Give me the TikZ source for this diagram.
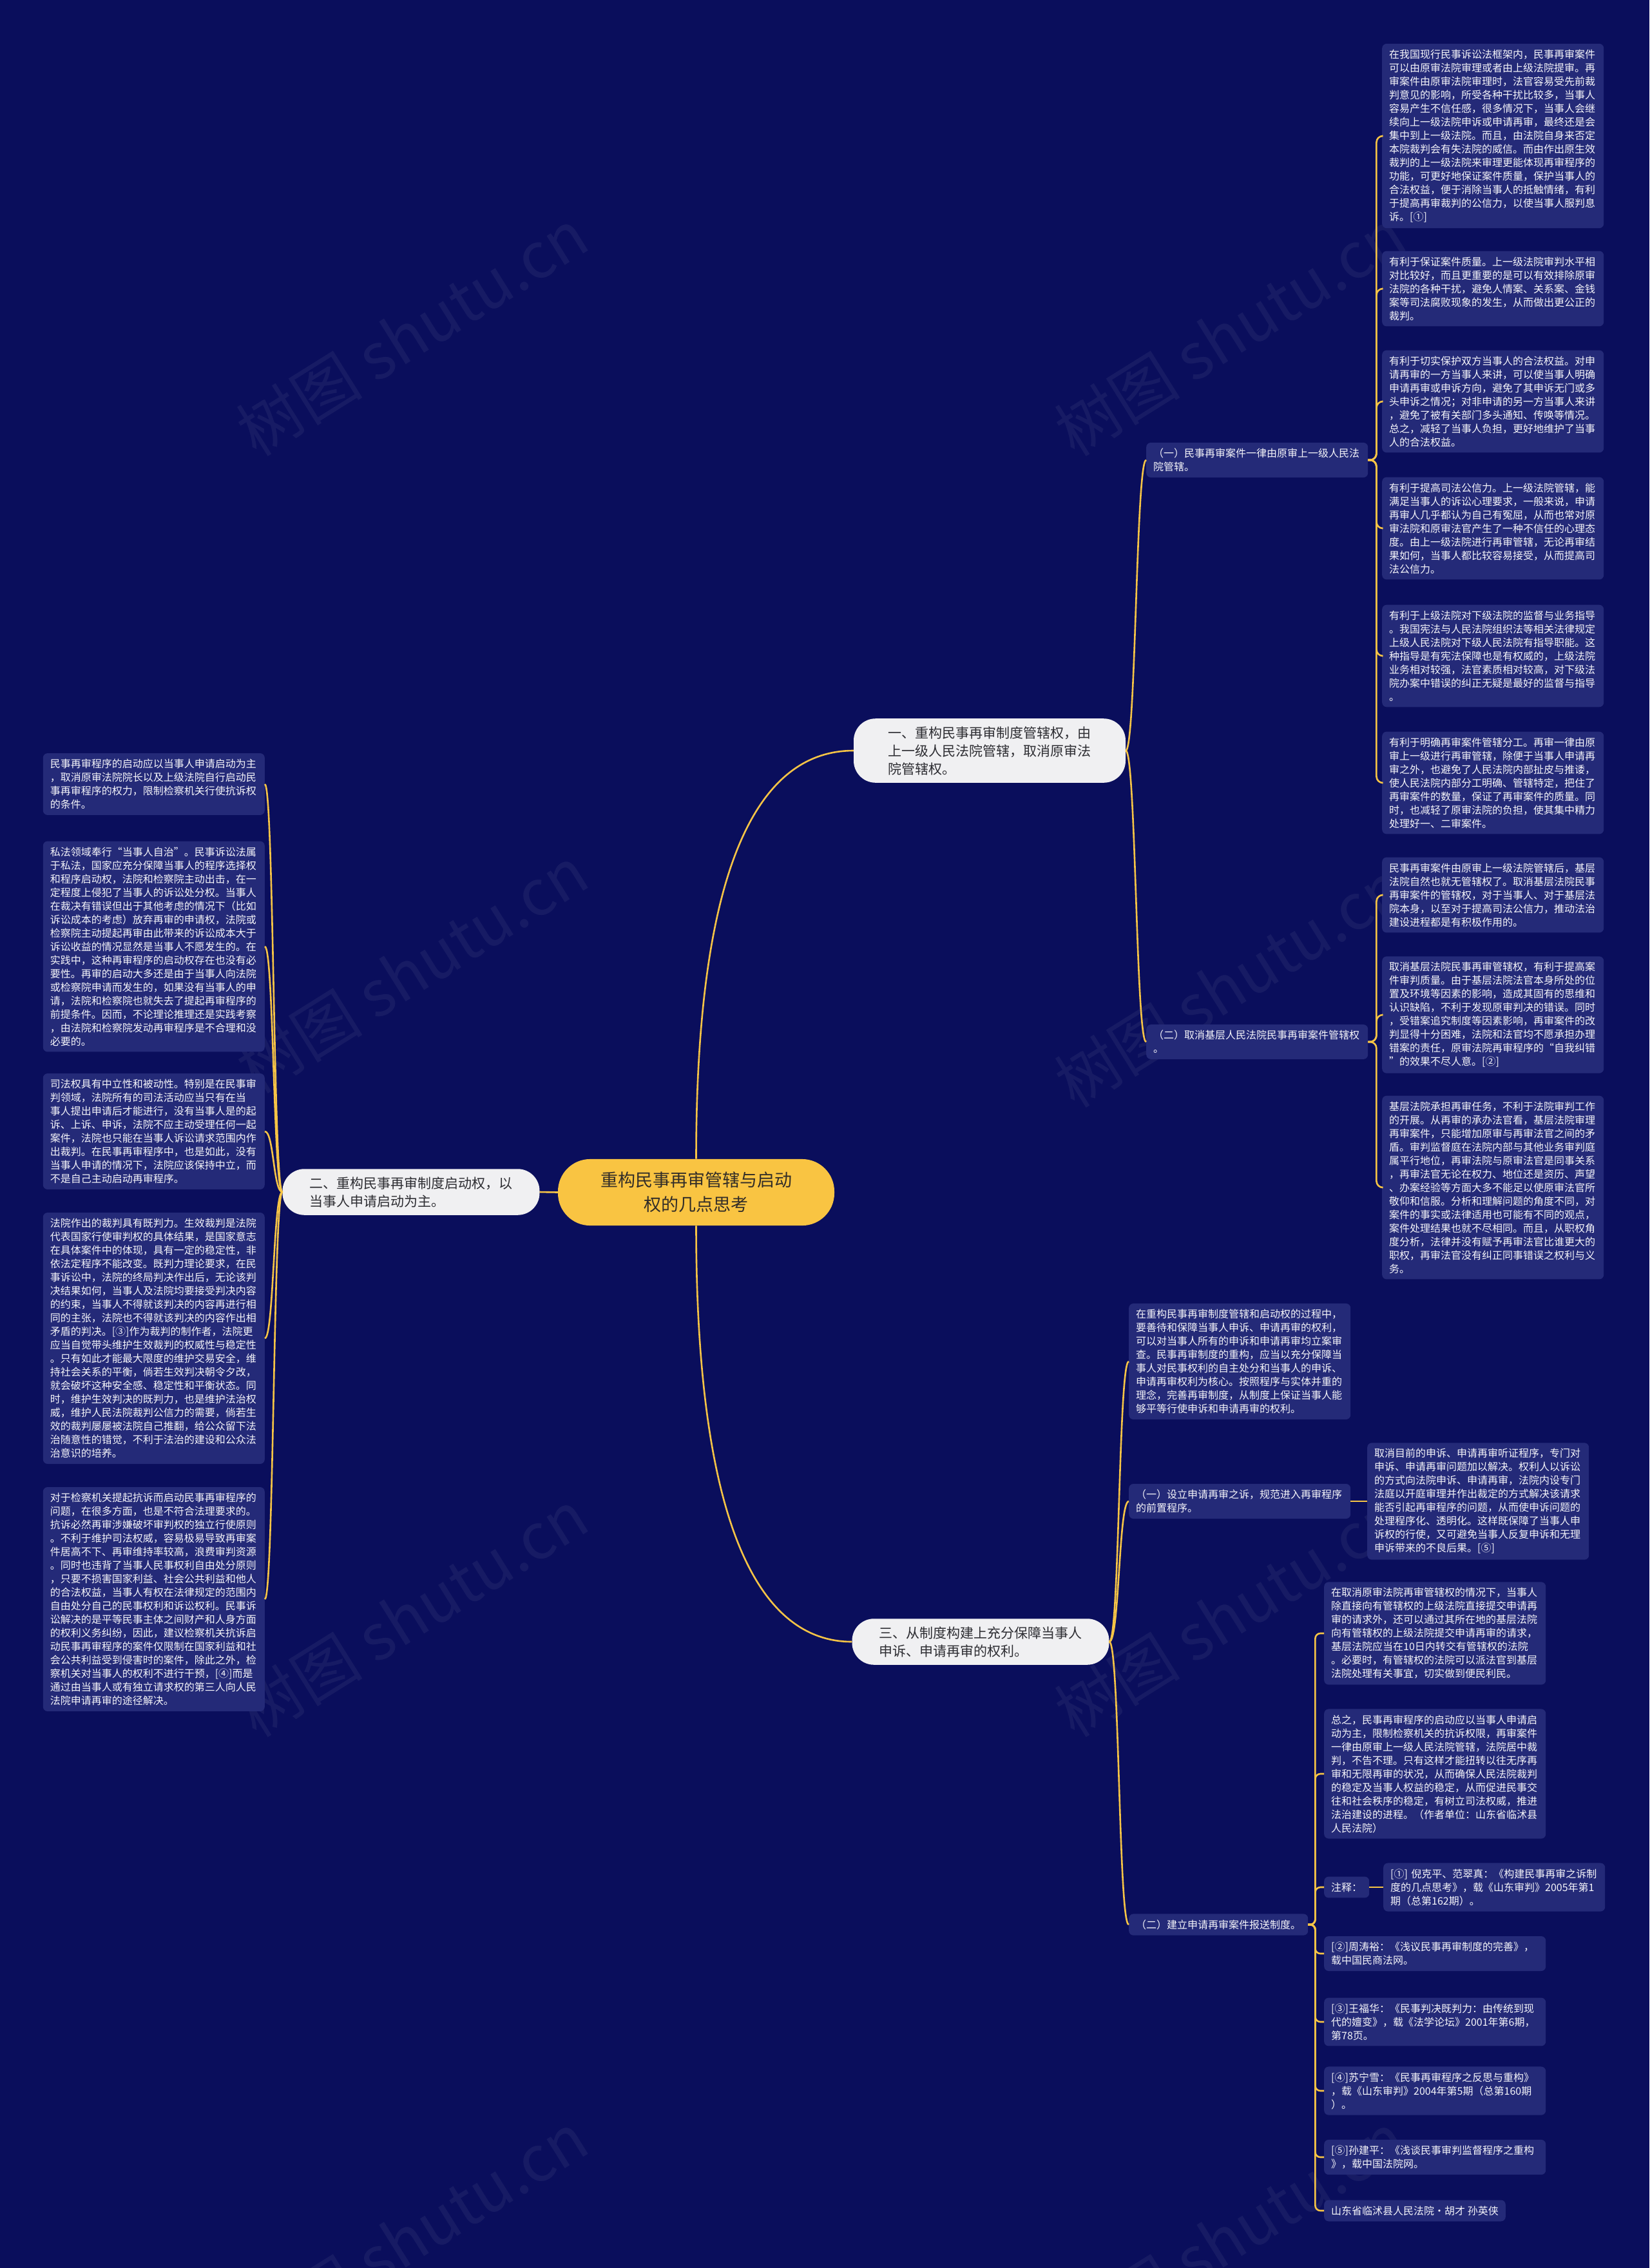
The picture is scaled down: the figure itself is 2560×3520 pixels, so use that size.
\documentclass[tikz,border=0pt]{standalone}
\usepackage{fontspec}
\setmainfont{Noto Sans CJK SC}
\definecolor{bgc}{RGB}{10,14,92}
\definecolor{boxc}{RGB}{36,42,120}
\definecolor{linec}{RGB}{246,196,70}
\definecolor{txtc}{RGB}{245,245,250}
\definecolor{topc}{RGB}{240,240,242}
\definecolor{topt}{RGB}{45,45,50}
\definecolor{rootc}{RGB}{249,196,66}
\definecolor{roott}{RGB}{50,45,40}
\tikzset{
 conn/.style={draw=linec, line width=2.6pt},
 tbox/.style={fill=boxc, rounded corners=7pt, text=txtc, font=\fontsize{16}{21}\selectfont, align=left, inner xsep=11pt, inner ysep=9pt},
 leafbox/.style={tbox, text width=322pt},
 topic/.style={fill=topc, text=topt, font=\fontsize{21}{28}\selectfont, align=left, rounded corners=34pt, inner xsep=42pt, inner ysep=12pt},
 rootbox/.style={fill=rootc, text=roott, font=\fontsize{27}{38}\selectfont, align=center, rounded corners=50pt, inner xsep=66pt, inner ysep=20pt},
 wm/.style={text=white, opacity=0.055, font=\fontsize{98}{100}\selectfont, rotate=32},
}
\begin{document}
\begin{tikzpicture}[x=1pt,y=-1pt]
\useasboundingbox (0,0) rectangle (2560,3520);
\fill[bgc] (0,0) rectangle (2560,3520);

% watermarks
\node[wm] (w1) at (640,516) {树图 shutu.cn};
\node[wm] (w2) at (1909,516) {树图 shutu.cn};
\node[wm] (w3) at (640,1505) {树图 shutu.cn};
\node[wm] (w4) at (1909,1527) {树图 shutu.cn};
\node[wm] (w5) at (640,2504) {树图 shutu.cn};
\node[wm] (w6) at (1909,2504) {树图 shutu.cn};
\node[wm] (w7) at (640,3470) {树图 shutu.cn};
\node[wm] (w8) at (1909,3470) {树图 shutu.cn};

% root and main topics
\node[rootbox] (root) at (1080.5,1850.5) {重构民事再审管辖与启动\\权的几点思考};
\node[topic, minimum width=422pt] (n1) at (1536,1165) {一、重构民事再审制度管辖权，由\\上一级人民法院管辖，取消原审法\\院管辖权。};
\node[topic] (n2) at (638,1850) {二、重构民事再审制度启动权，以\\当事人申请启动为主。};
\node[topic] (n3) at (1522,2548) {三、从制度构建上充分保障当事人\\申诉、申请再审的权利。};

% branch 1 labels
\node[leafbox, anchor=west] (lab1) at (1779,714) {（一）民事再审案件一律由原审上一级人民法\\院管辖。};
\node[leafbox, anchor=west] (lab2) at (1779,1617) {（二）取消基层人民法院民事再审案件管辖权\\。};

% group 1 leaves
\node[leafbox, anchor=west] (L1a) at (2145,211) {在我国现行民事诉讼法框架内，民事再审案件\\可以由原审法院审理或者由上级法院提审。再\\审案件由原审法院审理时，法官容易受先前裁\\判意见的影响，所受各种干扰比较多，当事人\\容易产生不信任感，很多情况下，当事人会继\\续向上一级法院申诉或申请再审，最终还是会\\集中到上一级法院。而且，由法院自身来否定\\本院裁判会有失法院的威信。而由作出原生效\\裁判的上一级法院来审理更能体现再审程序的\\功能，可更好地保证案件质量，保护当事人的\\合法权益，便于消除当事人的抵触情绪，有利\\于提高再审裁判的公信力，以使当事人服判息\\诉。[①]};
\node[leafbox, anchor=west] (L1b) at (2145,448) {有利于保证案件质量。上一级法院审判水平相\\对比较好，而且更重要的是可以有效排除原审\\法院的各种干扰，避免人情案、关系案、金钱\\案等司法腐败现象的发生，从而做出更公正的\\裁判。};
\node[leafbox, anchor=west] (L1c) at (2145,623) {有利于切实保护双方当事人的合法权益。对申\\请再审的一方当事人来讲，可以使当事人明确\\申请再审或申诉方向，避免了其申诉无门或多\\头申诉之情况；对非申请的另一方当事人来讲\\，避免了被有关部门多头通知、传唤等情况。\\总之，减轻了当事人负担，更好地维护了当事\\人的合法权益。};
\node[leafbox, anchor=west] (L1d) at (2145,820) {有利于提高司法公信力。上一级法院管辖，能\\满足当事人的诉讼心理要求，一般来说，申请\\再审人几乎都认为自己有冤屈，从而也常对原\\审法院和原审法官产生了一种不信任的心理态\\度。由上一级法院进行再审管辖，无论再审结\\果如何，当事人都比较容易接受，从而提高司\\法公信力。};
\node[leafbox, anchor=west] (L1e) at (2145,1018) {有利于上级法院对下级法院的监督与业务指导\\。我国宪法与人民法院组织法等相关法律规定\\上级人民法院对下级人民法院有指导职能。这\\种指导是有宪法保障也是有权威的，上级法院\\业务相对较强，法官素质相对较高，对下级法\\院办案中错误的纠正无疑是最好的监督与指导\\。};
\node[leafbox, anchor=west] (L1f) at (2145,1215) {有利于明确再审案件管辖分工。再审一律由原\\审上一级进行再审管辖，除便于当事人申请再\\审之外，也避免了人民法院内部扯皮与推诿，\\使人民法院内部分工明确、管辖特定，把住了\\再审案件的数量，保证了再审案件的质量。同\\时，也减轻了原审法院的负担，使其集中精力\\处理好一、二审案件。};

% group 2 leaves
\node[leafbox, anchor=west] (L2a) at (2145,1389) {民事再审案件由原审上一级法院管辖后，基层\\法院自然也就无管辖权了。取消基层法院民事\\再审案件的管辖权，对于当事人、对于基层法\\院本身，以至对于提高司法公信力，推动法治\\建设进程都是有积极作用的。};
\node[leafbox, anchor=west] (L2b) at (2145,1575) {取消基层法院民事再审管辖权，有利于提高案\\件审判质量。由于基层法院法官本身所处的位\\置及环境等因素的影响，造成其固有的思维和\\认识缺陷，不利于发现原审判决的错误。同时\\，受错案追究制度等因素影响，再审案件的改\\判显得十分困难，法院和法官均不愿承担办理\\错案的责任，原审法院再审程序的“自我纠错\\”的效果不尽人意。[②]};
\node[leafbox, anchor=west] (L2c) at (2145,1843) {基层法院承担再审任务，不利于法院审判工作\\的开展。从再审的承办法官看，基层法院审理\\再审案件，只能增加原审与再审法官之间的矛\\盾。审判监督庭在法院内部与其他业务审判庭\\属平行地位，再审法院与原审法官是同事关系\\，再审法官无论在权力、地位还是资历、声望\\、办案经验等方面大多不能足以使原审法官所\\敬仰和信服。分析和理解问题的角度不同，对\\案件的事实或法律适用也可能有不同的观点，\\案件处理结果也就不尽相同。而且，从职权角\\度分析，法律并没有赋予再审法官比谁更大的\\职权，再审法官没有纠正同事错误之权利与义\\务。};

% left leaves
\node[leafbox, anchor=east] (LL1) at (411,1217) {民事再审程序的启动应以当事人申请启动为主\\，取消原审法院院长以及上级法院自行启动民\\事再审程序的权力，限制检察机关行使抗诉权\\的条件。};
\node[leafbox, anchor=east] (LL2) at (411,1469) {私法领域奉行“当事人自治”。民事诉讼法属\\于私法，国家应充分保障当事人的程序选择权\\和程序启动权，法院和检察院主动出击，在一\\定程度上侵犯了当事人的诉讼处分权。当事人\\在裁决有错误但出于其他考虑的情况下（比如\\诉讼成本的考虑）放弃再审的申请权，法院或\\检察院主动提起再审由此带来的诉讼成本大于\\诉讼收益的情况显然是当事人不愿发生的。在\\实践中，这种再审程序的启动权存在也没有必\\要性。再审的启动大多还是由于当事人向法院\\或检察院申请而发生的，如果没有当事人的申\\请，法院和检察院也就失去了提起再审程序的\\前提条件。因而，不论理论推理还是实践考察\\，由法院和检察院发动再审程序是不合理和没\\必要的。};
\node[leafbox, anchor=east] (LL3) at (411,1756) {司法权具有中立性和被动性。特别是在民事审\\判领域，法院所有的司法活动应当只有在当\\事人提出申请后才能进行，没有当事人是的起\\诉、上诉、申诉，法院不应主动受理任何一起\\案件，法院也只能在当事人诉讼请求范围内作\\出裁判。在民事再审程序中，也是如此，没有\\当事人申请的情况下，法院应该保持中立，而\\不是自己主动启动再审程序。};
\node[leafbox, anchor=east] (LL4) at (411,2077) {法院作出的裁判具有既判力。生效裁判是法院\\代表国家行使审判权的具体结果，是国家意志\\在具体案件中的体现，具有一定的稳定性，非\\依法定程序不能改变。既判力理论要求，在民\\事诉讼中，法院的终局判决作出后，无论该判\\决结果如何，当事人及法院均要接受判决内容\\的约束，当事人不得就该判决的内容再进行相\\同的主张，法院也不得就该判决的内容作出相\\矛盾的判决。[③]作为裁判的制作者，法院更\\应当自觉带头维护生效裁判的权威性与稳定性\\。只有如此才能最大限度的维护交易安全，维\\持社会关系的平衡，倘若生效判决朝令夕改，\\就会破坏这种安全感、稳定性和平衡状态。同\\时，维护生效判决的既判力，也是维护法治权\\威，维护人民法院裁判公信力的需要，倘若生\\效的裁判屡屡被法院自己推翻，给公众留下法\\治随意性的错觉，不利于法治的建设和公众法\\治意识的培养。};
\node[leafbox, anchor=east] (LL5) at (411,2482) {对于检察机关提起抗诉而启动民事再审程序的\\问题，在很多方面，也是不符合法理要求的。\\抗诉必然再审涉嫌破坏审判权的独立行使原则\\。不利于维护司法权威，容易极易导致再审案\\件居高不下、再审维持率较高，浪费审判资源\\。同时也违背了当事人民事权利自由处分原则\\，只要不损害国家利益、社会公共利益和他人\\的合法权益，当事人有权在法律规定的范围内\\自由处分自己的民事权利和诉讼权利。民事诉\\讼解决的是平等民事主体之间财产和人身方面\\的权利义务纠纷，因此，建议检察机关抗诉启\\动民事再审程序的案件仅限制在国家利益和社\\会公共利益受到侵害时的案件，除此之外，检\\察机关对当事人的权利不进行干预，[④]而是\\通过由当事人或有独立请求权的第三人向人民\\法院申请再审的途径解决。};

% branch 3
\node[leafbox, anchor=west] (B1) at (1752,2113) {在重构民事再审制度管辖和启动权的过程中，\\要善待和保障当事人申诉、申请再审的权利，\\可以对当事人所有的申诉和申请再审均立案审\\查。民事再审制度的重构，应当以充分保障当\\事人对民事权利的自主处分和当事人的申诉、\\申请再审权利为核心。按照程序与实体并重的\\理念，完善再审制度，从制度上保证当事人能\\够平等行使申诉和申请再审的权利。};
\node[leafbox, anchor=west] (B2) at (1752,2330) {（一）设立申请再审之诉，规范进入再审程序\\的前置程序。};
\node[tbox, anchor=west] (B3) at (1752,2987) {（二）建立申请再审案件报送制度。};
\node[leafbox, anchor=west] (B2x) at (2122,2330) {取消目前的申诉、申请再审听证程序，专门对\\申诉、申请再审问题加以解决。权利人以诉讼\\的方式向法院申诉、申请再审，法院内设专门\\法庭以开庭审理并作出裁定的方式解决该请求\\能否引起再审程序的问题，从而使申诉问题的\\处理程序化、透明化。这样既保障了当事人申\\诉权的行使，又可避免当事人反复申诉和无理\\申诉带来的不良后果。[⑤]};

\node[leafbox, anchor=west] (C1) at (2055,2535) {在取消原审法院再审管辖权的情况下，当事人\\除直接向有管辖权的上级法院直接提交申请再\\审的请求外，还可以通过其所在地的基层法院\\向有管辖权的上级法院提交申请再审的请求，\\基层法院应当在10日内转交有管辖权的法院\\。必要时，有管辖权的法院可以派法官到基层\\法院处理有关事宜，切实做到便民利民。};
\node[leafbox, anchor=west] (C2) at (2055,2753) {总之，民事再审程序的启动应以当事人申请启\\动为主，限制检察机关的抗诉权限，再审案件\\一律由原审上一级人民法院管辖，法院居中裁\\判，不告不理。只有这样才能扭转以往无序再\\审和无限再审的状况，从而确保人民法院裁判\\的稳定及当事人权益的稳定，从而促进民事交\\往和社会秩序的稳定，有树立司法权威，推进\\法治建设的进程。（作者单位：山东省临沭县\\人民法院）};
\node[tbox, anchor=west] (C3) at (2055,2929) {注释：};
\node[leafbox, anchor=west] (C3x) at (2147,2929) {[①] 倪克平、范翠真：《构建民事再审之诉制\\度的几点思考》，载《山东审判》2005年第1\\期（总第162期）。};
\node[leafbox, anchor=west] (C4) at (2055,3032) {[②]周涛裕：《浅议民事再审制度的完善》，\\载中国民商法网。};
\node[leafbox, anchor=west] (C5) at (2055,3138) {[③]王福华：《民事判决既判力：由传统到现\\代的嬗变》，载《法学论坛》2001年第6期，\\第78页。};
\node[leafbox, anchor=west] (C6) at (2055,3245) {[④]苏宁雪：《民事再审程序之反思与重构》\\，载《山东审判》2004年第5期（总第160期\\）。};
\node[leafbox, anchor=west] (C7) at (2055,3348) {[⑤]孙建平：《浅谈民事审判监督程序之重构\\》，载中国法院网。};
\node[tbox, anchor=west] (C8) at (2055,3431) {山东省临沭县人民法院·胡才 孙英侠};

% connectors: root
\draw[conn] (root.north) .. controls +(0,-450) and +(-150,0) .. (n1.west);
\draw[conn] (root.south) .. controls +(0,450) and +(-150,0) .. (n3.west);
\draw[conn] (root.west) -- (n2.east);

% n1 -> labels
\foreach \c in {lab1,lab2}
  \draw[conn] (n1.east) .. controls +(16,0) and +(-16,0) .. (\c.west);
% labels -> leaves
\foreach \c in {L1a,L1b,L1c,L1d,L1e,L1f}
  \draw[conn, rounded corners=10pt] (lab1.east) -- ++(13,0) |- (\c.west);
\foreach \c in {L2a,L2b,L2c}
  \draw[conn, rounded corners=10pt] (lab2.east) -- ++(13,0) |- (\c.west);
% n2 -> left leaves
\foreach \c in {LL1,LL2,LL3,LL4,LL5}
  \draw[conn] (n2.west) .. controls +(-14,0) and +(14,0) .. (\c.east);
% n3 -> children
\foreach \c in {B1,B2,B3}
  \draw[conn] (n3.east) .. controls +(16,0) and +(-16,0) .. (\c.west);
\draw[conn] (B2.east) -- (B2x.west);
\foreach \c in {C1,C2,C3,C4,C5,C6,C7,C8}
  \draw[conn, rounded corners=8pt] (B3.east) -- ++(11,0) |- (\c.west);
\draw[conn] (C3.east) -- (C3x.west);
\end{tikzpicture}
\end{document}
